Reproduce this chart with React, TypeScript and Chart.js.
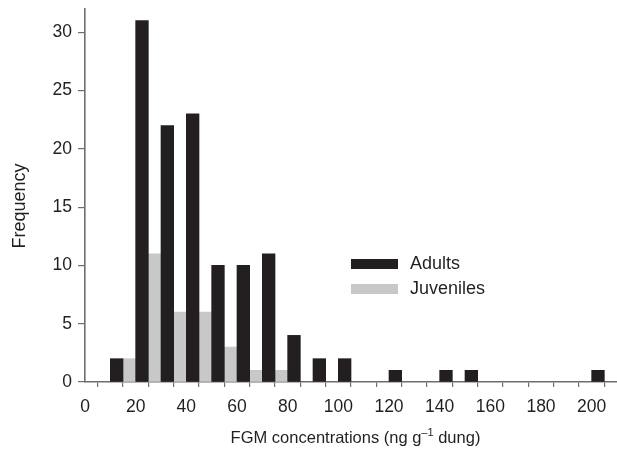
import React, { useEffect, useRef } from "react";
import { Chart, registerables } from "chart.js";

Chart.register(...registerables);

const binStarts = [0, 10, 20, 30, 40, 50, 60, 70, 80, 90, 100, 110, 120, 130, 140, 150, 160, 170, 180, 190, 200];
const adults = [0, 2, 31, 22, 23, 10, 10, 11, 4, 2, 2, 0, 1, 0, 1, 1, 0, 0, 0, 0, 1];
const juveniles = [0, 2, 11, 6, 6, 3, 1, 1, 0, 0, 0, 0, 0, 0, 0, 0, 0, 0, 0, 0, 0];
const seriesNames = ["Adults", "Juveniles"];
const xTitleParts = ["FGM concentrations (ng g", "\u20131", " dung)"];
const yTitle = "Frequency";

const DARK = "#231f20";
const LIGHT = "#c8c8c8";
const AXIS = "#6e6e6e";
const FONT = "'Liberation Sans', Arial, Helvetica, sans-serif";

const toPoints = (vals: number[]) =>
  binStarts.map((b, i) => ({ x: b + 5, y: vals[i] === 0 ? null : vals[i] }));

const overlayPlugin = {
  id: "overlayText",
  afterDraw(chart: any) {
    const ctx = chart.ctx;
    ctx.save();
    // legend
    const items = [
      { label: seriesNames[0], color: DARK, y: 269 },
      { label: seriesNames[1], color: LIGHT, y: 294 },
    ];
    ctx.font = `18px ${FONT}`;
    ctx.textBaseline = "alphabetic";
    ctx.textAlign = "left";
    for (const it of items) {
      ctx.fillStyle = it.color;
      ctx.fillRect(351, it.y - 10, 47, 10);
      ctx.fillStyle = DARK;
      ctx.fillText(it.label, 410, it.y);
    }
    // x title with superscript
    const mainFont = `16.5px ${FONT}`;
    const supFont = `11px ${FONT}`;
    ctx.font = mainFont;
    const w0 = ctx.measureText(xTitleParts[0]).width;
    const w2 = ctx.measureText(xTitleParts[2]).width;
    ctx.font = supFont;
    const w1 = ctx.measureText(xTitleParts[1]).width;
    const total = w0 + w1 + w2;
    let x = 355.5 - total / 2;
    const base = 443;
    ctx.fillStyle = DARK;
    ctx.font = mainFont;
    ctx.fillText(xTitleParts[0], x, base);
    x += w0;
    ctx.font = supFont;
    ctx.fillText(xTitleParts[1], x, base - 7);
    x += w1;
    ctx.font = mainFont;
    ctx.fillText(xTitleParts[2], x, base);
    // y title
    ctx.translate(25, 206);
    ctx.rotate(-Math.PI / 2);
    ctx.font = `18px ${FONT}`;
    ctx.textAlign = "center";
    ctx.fillText(yTitle, 0, 0);
    ctx.restore();
  },
};

export default function App() {
  const ref = useRef<HTMLCanvasElement>(null);
  useEffect(() => {
    if (!ref.current) return;
    const chart = new Chart(ref.current, {
      type: "bar",
      data: {
        datasets: [
          {
            label: seriesNames[0],
            data: toPoints(adults),
            backgroundColor: DARK,
            borderWidth: 0,
            categoryPercentage: 1,
            barPercentage: 1,
          },
          {
            label: seriesNames[1],
            data: toPoints(juveniles),
            backgroundColor: LIGHT,
            borderWidth: 0,
            categoryPercentage: 1,
            barPercentage: 1,
          },
        ],
      },
      options: {
        responsive: false,
        animation: false,
        devicePixelRatio: 1,
        layout: { padding: { top: 9, left: 0, right: 0, bottom: 0 } },
        plugins: { legend: { display: false }, tooltip: { enabled: false } },
        scales: {
          x: {
            type: "linear",
            min: 0,
            max: 210,
            offset: false,
            grid: { display: true, drawOnChartArea: false, drawTicks: true, tickLength: 5, color: AXIS, lineWidth: 1.2 },
            border: { display: true, color: AXIS, width: 1.6 },
            afterBuildTicks: (s: any) => {
              s.ticks = s.ticks.filter((t: any) => t.value <= 200);
            },
            afterFit: (s: any) => {
              s.height = 72;
              s.paddingLeft = 0;
              s.paddingRight = 0;
            },
            ticks: {
              stepSize: 10,
              autoSkip: false,
              maxRotation: 0,
              padding: 10,
              color: DARK,
              font: { family: FONT, size: 17.5 },
              callback: (v: any) => (Number(v) % 20 === 0 ? String(v) : ""),
            },
          },
          y: {
            min: 0,
            max: 32,
            grid: { display: true, drawOnChartArea: false, drawTicks: true, tickLength: 7, color: AXIS, lineWidth: 1.2 },
            border: { display: true, color: AXIS, width: 1.6 },
            afterFit: (s: any) => {
              s.width = 85;
              s.paddingTop = 0;
              s.paddingBottom = 0;
            },
            ticks: {
              stepSize: 5,
              includeBounds: false,
              padding: 6,
              color: DARK,
              font: { family: FONT, size: 17.5 },
            },
          },
        },
      },
      plugins: [overlayPlugin],
    } as any);
    return () => chart.destroy();
  }, []);
  return (
    <div style={{ position: "absolute", left: 0, top: 0, width: 617, height: 454, background: "#fff" }}>
      <canvas ref={ref} width={617} height={454} />
    </div>
  );
}
